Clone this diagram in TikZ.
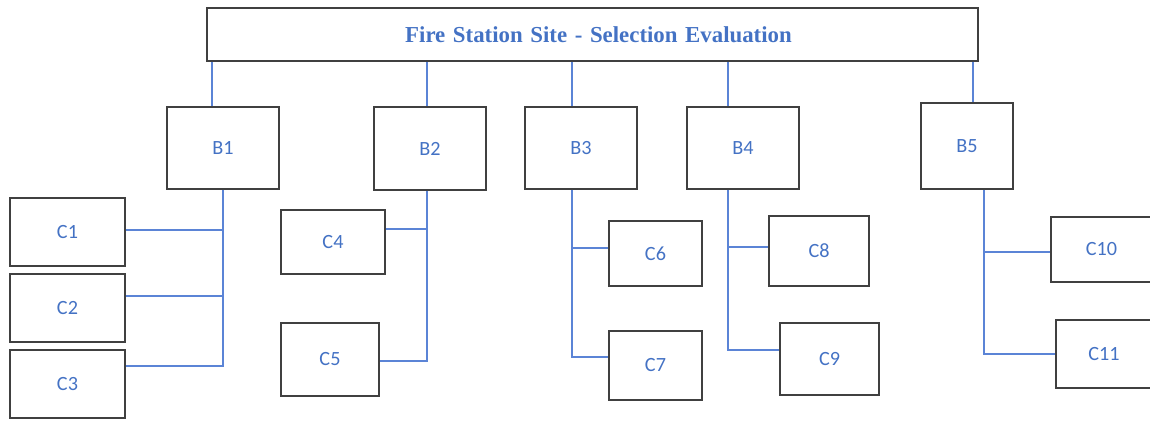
\documentclass[tikz,border=0pt]{standalone}
\usepackage{fontspec}
\setmainfont{Carlito}
\newfontfamily\titlefont{Liberation Serif}
\definecolor{txtblue}{HTML}{4472C4}
\definecolor{lnblue}{HTML}{5B84D6}
\definecolor{boxgray}{HTML}{404040}

\begin{document}
\begin{tikzpicture}[x=0.02cm, y=-0.02cm,
  blk/.style={draw=boxgray, line width=0.9pt, text=txtblue, inner sep=0pt, font=\fontsize{11.5}{13}\selectfont},
  lnk/.style={draw=lnblue, line width=0.9pt}]
			%%%%% START %%%%%
			\useasboundingbox (0, 0) rectangle (1150, 421);
			
			\node[blk, minimum width=15.42cm, minimum height=1.06cm, text width=15.42cm, align=center, font=\titlefont\bfseries\fontsize{13}{14}\selectfont] (title) at (592.5, 34.5) {\hspace*{0.24cm}Fire Station Site - Selection Evaluation};
			
			\node[blk, minimum width=2.24cm, minimum height=1.64cm] (B1) at (223, 148) {B1};
			\node[blk, minimum width=2.24cm, minimum height=1.66cm] (B2) at (430, 148.5) {B2};
			\node[blk, minimum width=2.24cm, minimum height=1.64cm] (B3) at (581, 148) {B3};
			\node[blk, minimum width=2.24cm, minimum height=1.64cm] (B4) at (743, 148) {B4};
			\node[blk, minimum width=1.84cm, minimum height=1.72cm] (B5) at (967, 146) {B5};
			
			\node[blk, minimum width=2.3cm, minimum height=1.36cm] (C1) at (67.5, 232) {C1};
			\node[blk, minimum width=2.3cm, minimum height=1.36cm] (C2) at (67.5, 308) {C2};
			\node[blk, minimum width=2.3cm, minimum height=1.36cm] (C3) at (67.5, 384) {C3};
			\node[blk, minimum width=2.08cm, minimum height=1.28cm] (C4) at (333, 242) {C4};
			\node[blk, minimum width=1.96cm, minimum height=1.46cm] (C5) at (330, 359.5) {C5};
			\node[blk, minimum width=1.86cm, minimum height=1.3cm] (C6) at (655.5, 253.5) {C6};
			\node[blk, minimum width=1.86cm, minimum height=1.38cm] (C7) at (655.5, 365.5) {C7};
			\node[blk, minimum width=2.0cm, minimum height=1.4cm] (C8) at (819, 251) {C8};
			\node[blk, minimum width=1.98cm, minimum height=1.44cm] (C9) at (829.5, 359) {C9};
			\node[blk, minimum width=2.02cm, minimum height=1.3cm] (C10) at (1101.5, 249.5) {C10};
			\node[blk, minimum width=1.92cm, minimum height=1.36cm] (C11) at (1104, 354) {C11};
			
			% title to B row
			\draw[lnk] (title.south -| 212, 0) -- (B1.north -| 212, 0);
			\draw[lnk] (title.south -| 427, 0) -- (B2.north -| 427, 0);
			\draw[lnk] (title.south -| 572, 0) -- (B3.north -| 572, 0);
			\draw[lnk] (title.south -| 728, 0) -- (B4.north -| 728, 0);
			\draw[lnk] (title.south -| 973, 0) -- (B5.north -| 973, 0);
			
			% B to C
			\draw[lnk] (B1.south) |- (C1.east |- 0, 230);
			\draw[lnk] (B1.south) |- (C2.east |- 0, 296);
			\draw[lnk] (B1.south) |- (C3.east |- 0, 366);
			\draw[lnk] (B2.south -| 427, 0) |- (C4.east |- 0, 229);
			\draw[lnk] (B2.south -| 427, 0) |- (C5.east |- 0, 361);
			\draw[lnk] (B3.south -| 572, 0) |- (C6.west |- 0, 248);
			\draw[lnk] (B3.south -| 572, 0) |- (C7.west |- 0, 357);
			\draw[lnk] (B4.south -| 728, 0) |- (C8.west |- 0, 247);
			\draw[lnk] (B4.south -| 728, 0) |- (C9.west |- 0, 350);
			\draw[lnk] (B5.south -| 984, 0) |- (C10.west |- 0, 252);
			\draw[lnk] (B5.south -| 984, 0) |- (C11.west |- 0, 354);
			
			%%%%% END %%%%%
\end{tikzpicture}
\end{document}
